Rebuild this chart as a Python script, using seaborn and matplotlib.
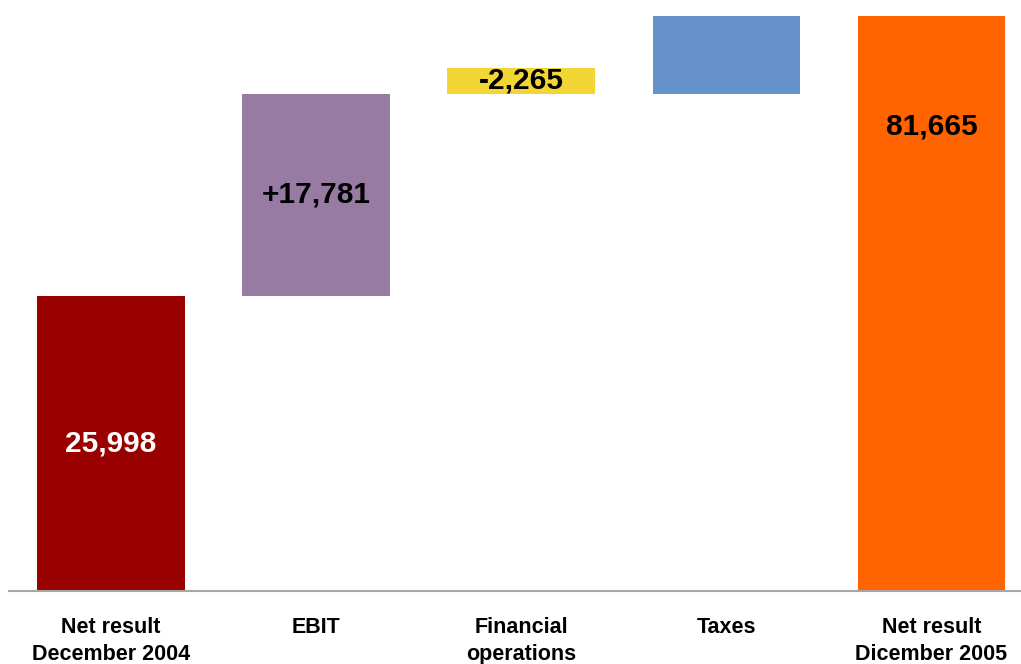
import matplotlib
matplotlib.use("Agg")
import matplotlib.pyplot as plt
import seaborn as sns
import pandas as pd

# Waterfall of the net result, 2004 -> 2005
categories = ["Net result\nDecember 2004", "EBIT", "Financial\noperations",
              "Taxes", "Net result\nDicember 2005"]
values = [25998, 17781, 2265, 40151, 81665]
bases = [0, 25998, 43779, 43779, 0]
labels = ["25,998", "+17,781", "-2,265", "", "81,665"]
label_colors = ["white", "black", "black", "black", "black"]
colors = ["#990000", "#977ba2", "#f2d633", "#6692cc", "#ff6400"]

sns.set_theme(style="white")
plt.rcParams["font.family"] = ["Liberation Sans", "DejaVu Sans"]

W, H = 1021, 664
fig = plt.figure(figsize=(W / 100, H / 100), dpi=100)
left_px, base_px, top_px = 8.5, 591, 16
ax = fig.add_axes([left_px / W, (H - base_px) / H, (W - left_px) / W,
                   (base_px - top_px) / H])

df = pd.DataFrame({"category": categories, "value": values})
sns.barplot(data=df, x="category", y="value", hue="category",
            palette=colors, legend=False, width=0.72, saturation=1,
            linewidth=0, ax=ax)

# lift the floating bars onto their running totals
for patch, b in zip(ax.patches, bases):
    patch.set_y(b)

ymax = 50600
ax.set_ylim(0, ymax)
ax.set_xlim(-0.5, 4.5 - (1034 - W) / 205)

for i, (txt, v, b, c) in enumerate(zip(labels, values, bases, label_colors)):
    if not txt:
        continue
    ax.text(i, b + v / 2, txt, ha="center", va="center", color=c,
            fontsize=21.5, fontweight="bold")

for s in ["top", "right", "left"]:
    ax.spines[s].set_visible(False)
ax.spines["bottom"].set_color("#a6a6a6")
ax.spines["bottom"].set_linewidth(1.5)

ax.set_yticks([])
ax.set_xlabel("")
ax.set_ylabel("")
ax.tick_params(axis="x", length=0, pad=19, colors="black")
for t in ax.get_xticklabels():
    t.set_fontsize(15.5)
    t.set_fontweight("bold")
    t.set_color("black")
    t.set_linespacing(1.35)
    t.set_verticalalignment("top")

fig.savefig("out.png", dpi=100)
